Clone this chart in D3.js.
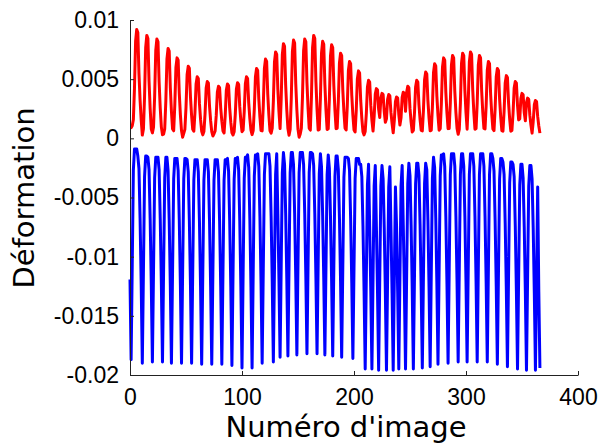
<!DOCTYPE html>
<html><head><meta charset="utf-8">
<script src="https://cdn.jsdelivr.net/npm/d3@7"></script>
<style>body{margin:0;background:#fff}</style>
</head><body>
<svg id="c" width="600" height="443"></svg>
<script>
const xTicks = [0, 100, 200, 300, 400];
const yTicks = [-0.02, -0.015, -0.01, -0.005, 0, 0.005, 0.01];
const yTickLabels = ["-0.02", "-0.015", "-0.01", "-0.005", "0", "0.005", "0.01"];
const xTitle = "Numéro d'image";
const yTitle = "Déformation";
const frameCount = 367;

// red series: per-cycle peak frame, peak value, trough value
const redPeakFrames = [6, 15, 24, 34, 42, 52, 60, 69, 79, 87, 96, 104, 113, 121, 130, 137, 146, 156, 164, 172, 180, 188, 196, 204, 213, 220, 225, 231, 238, 244, 248, 256, 264, 272, 280, 288, 297, 304, 312, 320, 328, 336, 344, 350, 355, 362];
const redPeaks = [0.0092, 0.0087, 0.0084, 0.0076, 0.0068, 0.0061, 0.0052, 0.0048, 0.0044, 0.0046, 0.0047, 0.0052, 0.0059, 0.0067, 0.0073, 0.0080, 0.0083, 0.0084, 0.0087, 0.0082, 0.0079, 0.0072, 0.0065, 0.0057, 0.0049, 0.0042, 0.0038, 0.0037, 0.0035, 0.0039, 0.0044, 0.0049, 0.0056, 0.0063, 0.0068, 0.0070, 0.0072, 0.0073, 0.0070, 0.0065, 0.0059, 0.0053, 0.0048, 0.0038, 0.0034, 0.0032];
const redTroughs = [0.0009, 0.0001, 0.0003, 0.0002, 0.0001, 0.0003, 0.0002, 0.0002, 0.0003, 0.0001, 0.0002, 0.0003, 0.0002, 0.0001, 0.0003, 0.0002, 0.0001, 0.0002, 0.0000, 0.0001, 0.0002, 0.0003, 0.0002, 0.0001, 0.0002, 0.0003, 0.0004, 0.0003, 0.0002, 0.0003, 0.0002, 0.0003, 0.0002, 0.0002, 0.0003, 0.0003, 0.0002, 0.0002, 0.0003, 0.0003, 0.0002, 0.0002, 0.0003, 0.0002, 0.0002, 0.0002];
const redShape = [0.02, 0.08, 0.4, 0.88, 1, 0.97, 0.55, 0.28, 0.08]; // offsets -4..4 around peak

// blue series: per-cycle bottom frame, bottom value, top value
const blueBottomFrames = [1, 11, 20, 29, 37, 46, 55, 64, 73, 82, 91, 100, 109, 118, 128, 134, 141, 149, 158, 167, 174, 181, 189, 199, 210, 216, 222, 229, 235, 240, 246, 253, 261, 268, 275, 284, 293, 301, 310, 319, 328, 337, 346, 354, 362, 366];
const blueBottoms = [-0.0187, -0.0190, -0.0189, -0.0189, -0.0190, -0.0190, -0.0190, -0.0191, -0.0191, -0.0191, -0.0192, -0.0194, -0.0194, -0.0190, -0.0189, -0.0185, -0.0184, -0.0183, -0.0182, -0.0182, -0.0183, -0.0184, -0.0185, -0.0186, -0.0195, -0.0195, -0.0196, -0.0196, -0.0196, -0.0195, -0.0195, -0.0195, -0.0194, -0.0193, -0.0191, -0.0190, -0.0189, -0.0189, -0.0189, -0.0189, -0.0191, -0.0193, -0.0195, -0.0196, -0.0196, -0.0194];
const blueTops = [-0.0009, -0.0015, -0.0016, -0.0016, -0.0017, -0.0017, -0.0018, -0.0018, -0.0018, -0.0018, -0.0017, -0.0016, -0.0014, -0.0013, -0.0013, -0.0012, -0.0012, -0.0012, -0.0012, -0.0013, -0.0014, -0.0015, -0.0016, -0.0017, -0.0022, -0.0023, -0.0023, -0.0024, -0.0024, -0.0023, -0.0021, -0.0021, -0.0021, -0.0016, -0.0014, -0.0013, -0.0013, -0.0013, -0.0013, -0.0013, -0.0017, -0.0020, -0.0022, -0.0023, -0.0024, -0.0024];
const blueShape = [0, 0.06, 0.3, 0.62, 1, 0.55, 0.1, 0]; // offsets -4..3 around bottom

function expand(centers, target, base, shape, half) {
  const out = [];
  for (let t = 0; t < frameCount; t++) {
    let j = 0, best = 1e9;
    centers.forEach((c, i) => { const d = Math.abs(t - c); if (d < best) { best = d; j = i; } });
    const k = t - centers[j];
    const idx = k + half;
    const f = (idx >= 0 && idx < shape.length) ? shape[idx] : 0;
    out.push({ f: t, v: base[j] + f * (target[j] - base[j]) });
  }
  return out;
}
const redData = expand(redPeakFrames, redPeaks, redTroughs, redShape, 4);
const blueData = expand(blueBottomFrames, blueBottoms, blueTops, blueShape, 4);

const svg = d3.select("#c");
const x = d3.scaleLinear().domain([0, 400]).range([130, 578]);
const y = d3.scaleLinear().domain([-0.02, 0.01]).range([375, 20]);

const line = d3.line().x(d => x(d.f)).y(d => y(d.v));
svg.append("path").datum(redData).attr("d", line)
  .attr("fill", "none").attr("stroke", "#ff0000").attr("stroke-width", 3).attr("stroke-linejoin", "round");
svg.append("path").datum(blueData).attr("d", line)
  .attr("fill", "none").attr("stroke", "#0000ff").attr("stroke-width", 3).attr("stroke-linejoin", "round");

const tickFont = "'Liberation Sans', Arial, sans-serif";
const gx = svg.append("g").attr("transform", "translate(0,375)")
  .call(d3.axisBottom(x).tickValues(xTicks).tickSizeInner(-4).tickSizeOuter(0).tickPadding(14));
const gy = svg.append("g").attr("transform", "translate(130,0)")
  .call(d3.axisLeft(y).tickValues(yTicks).tickFormat((d, i) => yTickLabels[i]).tickSizeInner(-4).tickSizeOuter(0).tickPadding(11));
[gx, gy].forEach(g => {
  g.selectAll("path,line").attr("stroke", "#222");
  g.selectAll("text").attr("font-family", tickFont).attr("font-size", 23).attr("fill", "#000");
});

svg.append("text").attr("x", 346).attr("y", 437).attr("text-anchor", "middle")
  .attr("font-family", "'DejaVu Sans', sans-serif").attr("font-size", 29).text(xTitle);
svg.append("text").attr("transform", "translate(34,198) rotate(-90)").attr("text-anchor", "middle")
  .attr("font-family", "'DejaVu Sans', sans-serif").attr("font-size", 29).text(yTitle);
</script>
</body></html>
